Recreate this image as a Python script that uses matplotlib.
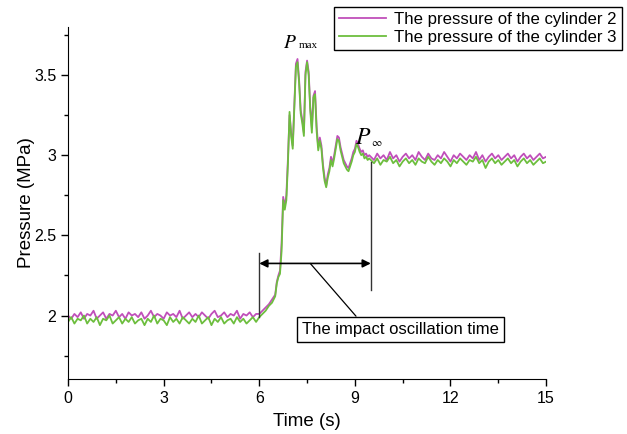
import numpy as np
import matplotlib
matplotlib.use("Agg")
import matplotlib.pyplot as plt
from matplotlib.ticker import MultipleLocator, FormatStrFormatter

plt.rcParams['font.family'] = ['Liberation Sans', 'DejaVu Sans']
plt.rcParams['mathtext.fontset'] = 'stix'

# time grid: coarse before/after the impact, finer during the transient
t_before = np.round(np.arange(0.0, 6.45, 0.1), 2)
t_impact = np.round(np.arange(6.5, 9.49, 0.05), 2)
t_after = np.round(np.arange(9.5, 15.01, 0.1), 2)
time = np.concatenate([t_before, t_impact, t_after])

# cylinder 3 (green)
p3_before = [1.96, 1.99, 1.95, 1.98, 1.97, 2.00, 1.95, 1.98, 1.96, 1.99,
             1.94, 1.98, 1.97, 2.00, 1.95, 1.97, 1.99, 1.95, 1.98, 1.96,
             1.99, 1.95, 1.97, 1.98, 1.94, 1.98, 1.96, 2.00, 1.95, 1.98,
             1.97, 1.94, 1.99, 1.96, 1.98, 1.95, 1.99, 1.97, 1.95, 1.98,
             1.96, 2.00, 1.95, 1.97, 1.99, 1.94, 1.98, 1.96, 1.99, 1.95,
             1.97, 1.98, 1.95, 1.99, 1.96, 1.98, 1.95, 1.97, 1.99, 1.96,
             1.99, 2.01, 2.03, 2.06, 2.08]
p3_impact = [2.12, 2.20, 2.24, 2.26, 2.40, 2.72, 2.66, 2.72, 2.95, 3.27,
             3.12, 3.04, 3.30, 3.55, 3.58, 3.45, 3.26, 3.20, 3.12, 3.50,
             3.58, 3.50, 3.28, 3.14, 3.36, 3.38, 3.15, 3.03, 3.09, 3.04,
             2.92, 2.84, 2.80, 2.86, 2.90, 2.97, 2.93, 2.98, 3.04, 3.10,
             3.09, 3.03, 2.99, 2.95, 2.93, 2.91, 2.90, 2.93, 2.96, 3.00,
             3.02, 3.07, 3.05, 3.02, 3.00, 3.01, 2.98, 2.99, 2.97, 2.98]
p3_after = [2.97, 2.95, 2.98, 2.94, 2.97, 2.96, 2.99, 2.95, 2.97, 2.93,
            2.96, 2.98, 2.95, 2.97, 2.94, 2.98, 2.96, 2.95, 2.99, 2.96,
            2.94, 2.97, 2.95, 2.98, 2.96, 2.93, 2.97, 2.95, 2.98, 2.96,
            2.94, 2.97, 2.96, 2.99, 2.95, 2.97, 2.92, 2.96, 2.98, 2.95,
            2.97, 2.94, 2.96, 2.98, 2.95, 2.97, 2.93, 2.96, 2.98, 2.95,
            2.97, 2.94, 2.96, 2.98, 2.95, 2.96]

# cylinder 2 (magenta)
p2_before = [2.00, 1.98, 2.01, 1.99, 2.02, 1.98, 2.01, 2.00, 2.03, 1.98,
             2.00, 2.02, 1.98, 2.01, 2.00, 2.03, 1.99, 2.01, 1.98, 2.02,
             2.00, 2.01, 1.99, 2.02, 1.98, 2.00, 2.03, 1.99, 2.01, 2.00,
             1.98, 2.02, 2.00, 2.01, 1.99, 2.03, 1.98, 2.00, 2.02, 1.99,
             2.01, 1.99, 2.02, 2.00, 1.98, 2.01, 2.03, 1.99, 2.00, 2.02,
             1.99, 2.01, 2.00, 2.03, 1.98, 2.01, 2.00, 2.02, 1.99, 2.01,
             2.01, 2.03, 2.05, 2.07, 2.10]
p2_impact = [2.13, 2.21, 2.25, 2.28, 2.45, 2.74, 2.68, 2.75, 2.98, 3.25,
             3.14, 3.06, 3.32, 3.57, 3.60, 3.47, 3.28, 3.22, 3.14, 3.52,
             3.59, 3.52, 3.30, 3.17, 3.37, 3.40, 3.18, 3.05, 3.11, 3.06,
             2.94, 2.86, 2.81, 2.88, 2.92, 2.99, 2.95, 3.00, 3.06, 3.12,
             3.11, 3.05, 3.01, 2.97, 2.95, 2.93, 2.92, 2.95, 2.98, 3.02,
             3.04, 3.09, 3.07, 3.04, 3.02, 3.03, 3.00, 3.01, 2.99, 3.00]
p2_after = [2.99, 2.97, 3.01, 2.98, 3.00, 2.97, 3.02, 2.98, 3.00, 2.96,
            2.99, 3.01, 2.98, 3.00, 2.97, 3.02, 2.99, 2.97, 3.01, 2.98,
            2.97, 3.00, 2.98, 3.02, 2.99, 2.96, 3.00, 2.98, 3.01, 2.99,
            2.97, 3.00, 2.98, 3.02, 2.97, 3.00, 2.96, 2.99, 3.01, 2.98,
            3.00, 2.97, 2.99, 3.01, 2.98, 3.00, 2.96, 2.99, 3.01, 2.98,
            3.00, 2.97, 2.99, 3.01, 2.98, 2.99]

p2 = np.array(p2_before + p2_impact + p2_after)
p3 = np.array(p3_before + p3_impact + p3_after)

impact_start = 6.0
impact_end = 9.5

fig = plt.figure(figsize=(6.27, 4.34), dpi=100, facecolor="w")
ax = fig.add_axes([0.1085, 0.127, 0.7625, 0.811])

ax.plot(time, p2, color='#C04FBA', lw=1.3, label='The pressure of the cylinder 2')
ax.plot(time, p3, color='#6DBE3E', lw=1.3, label='The pressure of the cylinder 3')

ax.set_xlim(0, 15)
ax.set_ylim(1.605, 3.8)
ax.xaxis.set_major_locator(MultipleLocator(3))
ax.xaxis.set_minor_locator(MultipleLocator(1.5))
ax.yaxis.set_major_locator(MultipleLocator(0.5))
ax.yaxis.set_minor_locator(MultipleLocator(0.25))
ax.yaxis.set_major_formatter(FormatStrFormatter('%g'))
ax.tick_params(which='major', direction='out', length=5, width=1, labelsize=11.5)
ax.tick_params(which='minor', direction='out', length=3, width=1)
for side in ['top', 'right']:
    ax.spines[side].set_visible(False)

ax.set_xlabel('Time (s)', fontsize=13.5, labelpad=5)
ax.set_ylabel('Pressure (MPa)', fontsize=13.5, labelpad=-1)

# impact oscillation time markers
ax.plot([impact_start, impact_start], [1.99, 2.39], color='#333333', lw=1)
ax.plot([impact_end, impact_end], [2.16, 2.96], color='#333333', lw=1)
ax.annotate('', xy=(impact_start, 2.325), xytext=(impact_end, 2.325),
            arrowprops=dict(arrowstyle='<|-|>', color='black', lw=1.2,
                            mutation_scale=12, shrinkA=0, shrinkB=0))
ax.annotate('The impact oscillation time', xy=(7.6, 2.325), xytext=(10.42, 1.915),
            ha='center', va='center', fontsize=12,
            bbox=dict(boxstyle='square,pad=0.3', fc='white', ec='black', lw=1),
            arrowprops=dict(arrowstyle='-', color='black', lw=0.9,
                            shrinkA=0, shrinkB=0, relpos=(0.3, 1.0)))

ax.text(6.75, 3.67, r'$P$', fontsize=14)
ax.text(7.24, 3.67, 'max', fontsize=8, family='Liberation Serif')
ax.text(9.0, 3.07, r'$P$', fontsize=17)
ax.text(9.5, 3.055, r'$\infty$', fontsize=8)

leg = ax.legend(loc='upper right', bbox_to_anchor=(0.992, 0.984),
                bbox_transform=fig.transFigure, fontsize=12.1, frameon=True,
                fancybox=False, edgecolor='black', framealpha=1,
                borderaxespad=0, handlelength=2.8, labelspacing=0.15,
                borderpad=0.3, handletextpad=0.5)
leg.get_frame().set_linewidth(1)

fig.savefig('out.png', dpi=100)
